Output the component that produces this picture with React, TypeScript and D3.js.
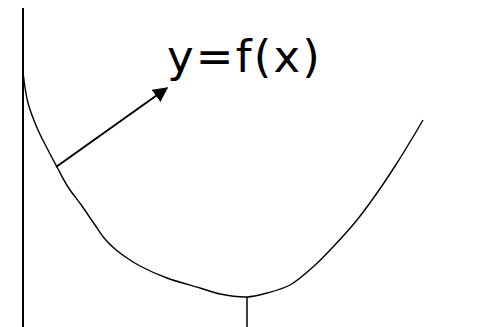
import React from 'react';
import * as d3 from 'd3';

// curve y = f(x), in axis units (origin at the bottom of the vertical axis)
const curveX = [0, 5, 15, 25, 34, 45, 59, 72, 82, 92, 104, 117, 144, 177, 197, 224, 244, 267, 290, 310, 334, 354, 374, 390, 400];
const curveY = [255, 224, 197, 177, 160, 140, 121, 102, 88, 78, 69, 61, 49, 39, 33, 30, 34, 42, 60, 80, 107, 134, 164, 190, 207];

// arrow from a point on the curve towards the label
const arrowFrom = [33, 160];
const arrowTo = [144, 239];

// vertical axis and the tick under the minimum
const axisTop = 319;
const minTickX = 224;
const minTickTop = 30;

const label = 'y=f(x)';
const labelPos = [144, 255];

const width = 477;
const height = 327;

export default function App() {
	const xScale = d3.scaleLinear().domain([0, 400]).range([23, 423]);
	const yScale = d3.scaleLinear().domain([0, 320]).range([327, 7]);

	const pts: [number, number][] = curveX.map((x, i) => [x, curveY[i]]);
	const line = d3
		.line<[number, number]>()
		.x(d => xScale(d[0]))
		.y(d => yScale(d[1]))
		.curve(d3.curveCatmullRom.alpha(0.5));

	return (
		<svg width={width} height={height} style={{ position: 'absolute', left: 0, top: 0 }}>
			<defs>
				<marker id="head" viewBox="0 0 10 10" refX="9" refY="5" markerWidth="7.5" markerHeight="8" markerUnits="strokeWidth" orient="auto">
					<path d="M0,0 L10,5 L0,10 z" fill="#000" />
				</marker>
			</defs>
			<rect width={width} height={height} fill="#fff" />
			<line x1={xScale(0)} x2={xScale(0)} y1={yScale(axisTop)} y2={yScale(0)} stroke="#000" strokeWidth={2} />
			<line x1={xScale(minTickX)} x2={xScale(minTickX)} y1={yScale(minTickTop)} y2={yScale(0)} stroke="#000" strokeWidth={1.5} />
			<path d={line(pts) || ''} fill="none" stroke="#000" strokeWidth={1.4} />
			<line
				x1={xScale(arrowFrom[0])}
				y1={yScale(arrowFrom[1])}
				x2={xScale(arrowTo[0])}
				y2={yScale(arrowTo[1])}
				stroke="#000"
				strokeWidth={2}
				markerEnd="url(#head)"
			/>
			<text
				x={xScale(labelPos[0])}
				y={yScale(labelPos[1])}
				fontFamily="DejaVu Sans"
				fontSize={45}
				letterSpacing={2.2}
				fill="#000"
			>
				{label}
			</text>
		</svg>
	);
}
